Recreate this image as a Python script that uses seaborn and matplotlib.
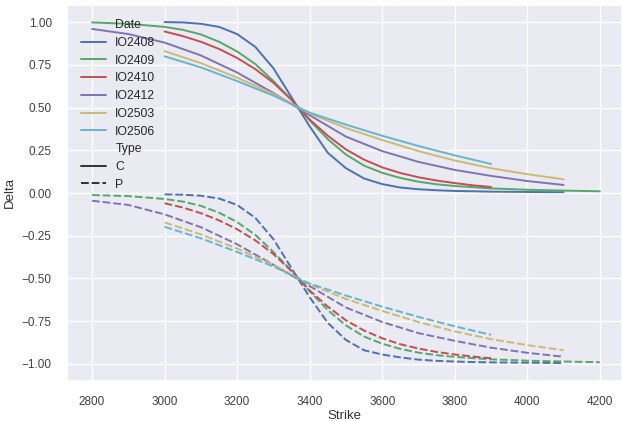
import numpy as np
import pandas as pd
import matplotlib
matplotlib.use("Agg")
import matplotlib.pyplot as plt
import seaborn as sns

# option series
dates = ["IO2408", "IO2409", "IO2410", "IO2412", "IO2503", "IO2506"]

strike_2408 = list(range(3000, 4101, 50))
call_2408 = [1.000, 0.998, 0.990, 0.972, 0.930, 0.855, 0.730, 0.560, 0.390, 0.235, 0.145, 0.085,
             0.052, 0.032, 0.022, 0.016, 0.012, 0.010, 0.008, 0.007, 0.006, 0.005, 0.005]
put_2408 = [-0.008, -0.010, -0.016, -0.032, -0.070, -0.145, -0.270, -0.440, -0.610, -0.760, -0.860, -0.920,
            -0.945, -0.962, -0.975, -0.982, -0.986, -0.989, -0.991, -0.992, -0.993, -0.994, -0.995]

strike_2409 = [2800, 2900] + list(range(3000, 3801, 50)) + [3900, 4000, 4100, 4200]
call_2409 = [0.998, 0.990, 0.972, 0.955, 0.928, 0.885, 0.828, 0.755, 0.655, 0.545, 0.425, 0.315,
             0.225, 0.160, 0.118, 0.088, 0.066, 0.051, 0.041, 0.027, 0.019, 0.014, 0.010]
put_2409 = [-0.012, -0.018, -0.035, -0.050, -0.075, -0.115, -0.170, -0.245, -0.345, -0.455, -0.575, -0.685,
            -0.775, -0.840, -0.882, -0.912, -0.934, -0.949, -0.959, -0.973, -0.981, -0.986, -0.990]

strike_2410 = list(range(3000, 3901, 50))
call_2410 = [0.945, 0.918, 0.885, 0.843, 0.790, 0.725, 0.645, 0.545, 0.430, 0.335, 0.255, 0.195,
             0.150, 0.117, 0.092, 0.073, 0.058, 0.045, 0.035]
put_2410 = [-0.060, -0.085, -0.118, -0.160, -0.212, -0.277, -0.357, -0.457, -0.570, -0.665, -0.745, -0.805,
            -0.850, -0.885, -0.910, -0.930, -0.945, -0.957, -0.967]

strike_2412 = list(range(2800, 4101, 100))
call_2412 = [0.960, 0.930, 0.880, 0.805, 0.705, 0.585, 0.455, 0.330, 0.245, 0.182, 0.135, 0.100, 0.070, 0.047]
put_2412 = [-0.045, -0.070, -0.125, -0.200, -0.300, -0.420, -0.545, -0.670, -0.755, -0.820, -0.865,
            -0.905, -0.935, -0.958]

strike_2503 = list(range(3000, 4101, 100))
call_2503 = [0.830, 0.760, 0.675, 0.580, 0.465, 0.380, 0.310, 0.245, 0.190, 0.145, 0.110, 0.080]
put_2503 = [-0.172, -0.242, -0.325, -0.420, -0.535, -0.620, -0.690, -0.755, -0.810, -0.855, -0.890, -0.920]

strike_2506 = list(range(3000, 3901, 100))
call_2506 = [0.800, 0.735, 0.655, 0.570, 0.470, 0.400, 0.335, 0.275, 0.220, 0.170]
put_2506 = [-0.198, -0.265, -0.345, -0.430, -0.530, -0.600, -0.665, -0.725, -0.780, -0.830]

series = {
    "IO2408": (strike_2408, call_2408, put_2408),
    "IO2409": (strike_2409, call_2409, put_2409),
    "IO2410": (strike_2410, call_2410, put_2410),
    "IO2412": (strike_2412, call_2412, put_2412),
    "IO2503": (strike_2503, call_2503, put_2503),
    "IO2506": (strike_2506, call_2506, put_2506),
}

rows = []
for d in dates:
    strikes, calls, puts = series[d]
    for k, v in zip(strikes, calls):
        rows.append({"Date": d, "Type": "C", "Strike": k, "Delta": v})
    for k, v in zip(strikes, puts):
        rows.append({"Date": d, "Type": "P", "Strike": k, "Delta": v})
df = pd.DataFrame(rows)

sns.set_theme(style="darkgrid")
plt.rcParams["font.family"] = ["Liberation Sans", "DejaVu Sans"]

fig = plt.figure(figsize=(6.22, 4.21), dpi=100)
ax = fig.add_axes([67 / 622, 40 / 421, 555 / 622, 376 / 421])

sns.lineplot(data=df, x="Strike", y="Delta", hue="Date", style="Type",
             palette=sns.color_palette("deep6"), linewidth=1.4, ax=ax)

ax.set_xlim(2731, 4261)
ax.set_ylim(-1.10, 1.10)
ax.set_xticks([2800, 3000, 3200, 3400, 3600, 3800, 4000, 4200])
ax.set_yticks([1.0, 0.75, 0.5, 0.25, 0.0, -0.25, -0.5, -0.75, -1.0])
ax.tick_params(labelsize=8.5, colors=".25", pad=5)
ax.set_xlabel("Strike", fontsize=9.5, labelpad=1, color=".2")
ax.set_ylabel("Delta", fontsize=9.5, color=".2")
ax.legend(loc="upper left", frameon=False, fontsize=8.8, borderaxespad=0.75, labelspacing=0.47)

fig.savefig("out.png", dpi=100)
